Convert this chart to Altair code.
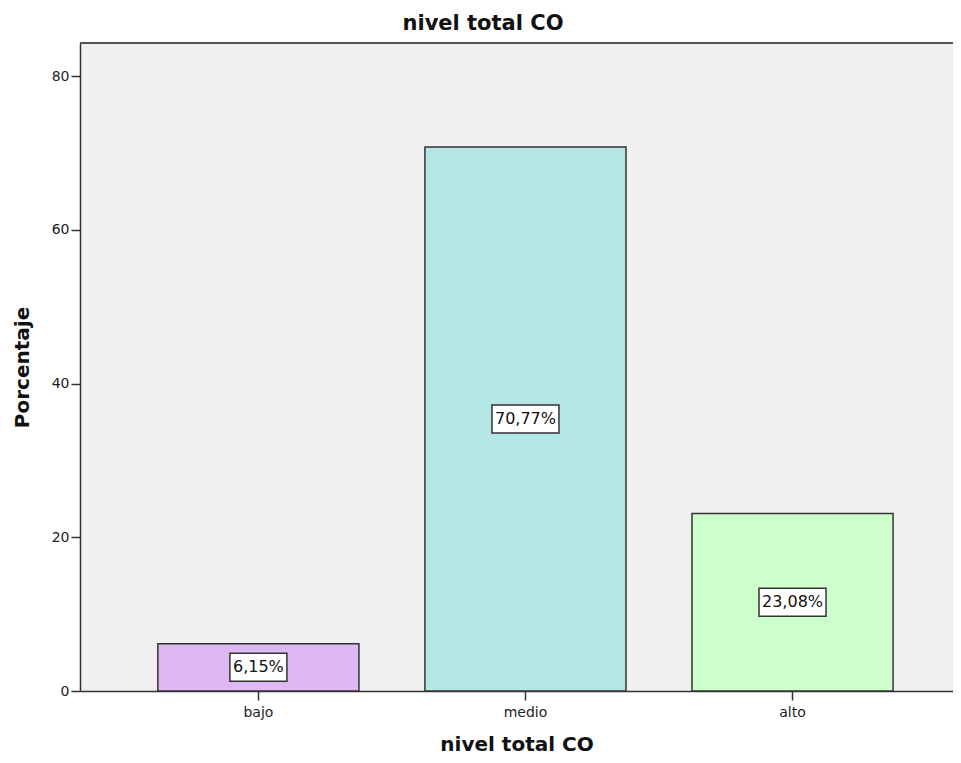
import altair as alt
import pandas as pd

categories = ["bajo", "medio", "alto"]
percentages = [6.15, 70.77, 23.08]
labels = ["6,15%", "70,77%", "23,08%"]
colors = ["#DEB8F2", "#B4E6E6", "#CCFFCC"]

df = pd.DataFrame({"nivel": categories, "pct": percentages, "label": labels})

W = 873
H = 648
FONT = "DejaVu Sans"

x_enc = alt.X(
    "nivel:N",
    sort=categories,
    scale=alt.Scale(paddingInner=0.247, paddingOuter=0.258, align=0.565),
    axis=alt.Axis(
        title="nivel total CO",
        labelAngle=0,
        labelFontSize=14,
        labelColor="#222",
        labelFont=FONT,
        labelPadding=5,
        tickSize=9,
        tickWidth=1.5,
        tickColor="#333",
        domainColor="#333",
        domainWidth=1.5,
        titleFontSize=20,
        titleFont=FONT,
        titleFontWeight="bold",
        titleColor="#111",
        titleBaseline="alphabetic",
        titleY=59,
    ),
)

y_axis = alt.Axis(
    title="Porcentaje",
    values=[0, 20, 40, 60, 80],
    grid=False,
    labelFontSize=14,
    labelFont=FONT,
    labelColor="#222",
    labelPadding=2,
    tickSize=9,
    tickWidth=1.5,
    tickColor="#333",
    domainColor="#333",
    domainWidth=1.5,
    titleFontSize=20,
    titleFont=FONT,
    titleFontWeight="bold",
    titleColor="#111",
    titleAngle=270,
    titleAlign="center",
    titleBaseline="middle",
    titleX=-58,
    titleY=H / 2,
)

base = alt.Chart(df)

bars = base.mark_bar(stroke="#333333", strokeWidth=1.5).encode(
    x=x_enc,
    y=alt.Y("pct:Q", scale=alt.Scale(domain=[0, 84.3], nice=False), axis=y_axis),
    color=alt.Color("nivel:N", scale=alt.Scale(domain=categories, range=colors), legend=None),
)

mid = base.transform_calculate(mid="datum.pct / 2")

box_short = mid.transform_filter("length(datum.label) <= 5").mark_bar(
    width=57, yOffset=-14, y2Offset=14, fill="white", stroke="#333333", strokeWidth=1.5
).encode(x=alt.X("nivel:N", sort=categories), y="mid:Q", y2="mid:Q")

box_long = mid.transform_filter("length(datum.label) > 5").mark_bar(
    width=67, yOffset=-14, y2Offset=14, fill="white", stroke="#333333", strokeWidth=1.5
).encode(x=alt.X("nivel:N", sort=categories), y="mid:Q", y2="mid:Q")

text = mid.mark_text(fontSize=16, font=FONT, color="#111", baseline="middle").encode(
    x=alt.X("nivel:N", sort=categories), y="mid:Q", text="label:N"
)

top_line = alt.Chart(df).mark_rule(color="#555555", strokeWidth=2).encode(
    x=alt.value(0), x2=alt.value(W), y=alt.value(0)
)

chart = (
    alt.layer(bars, box_short, box_long, text, top_line)
    .properties(
        width=W,
        height=H,
        autosize=alt.AutoSizeParams(type="none"),
        padding={"top": 35, "left": 72, "right": 0, "bottom": 64},
        title=alt.TitleParams(
            "nivel total CO",
            fontSize=21,
            font=FONT,
            fontWeight="bold",
            color="#111",
            anchor="middle",
            frame="bounds",
            offset=8,
        ),
    )
    .configure_view(stroke=None, fill="#F0F0F0")
)

chart.save("out.html", embed_options={"renderer": "svg", "actions": False})
